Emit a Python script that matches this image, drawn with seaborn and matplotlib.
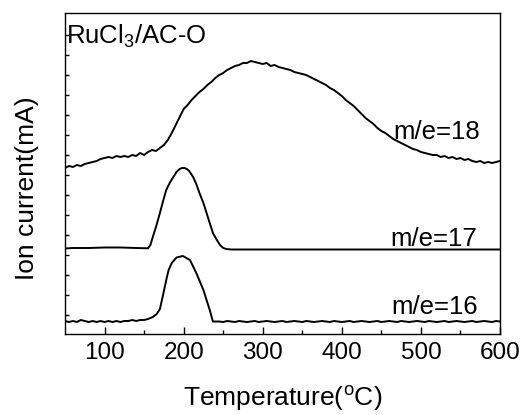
import numpy as np
import pandas as pd
import seaborn as sns
import matplotlib.pyplot as plt

sns.set_style("ticks")
plt.rcParams['font.family'] = ['Liberation Sans', 'DejaVu Sans']
plt.rcParams['mathtext.fontset'] = 'custom'
plt.rcParams['mathtext.rm'] = 'Liberation Sans'
plt.rcParams['mathtext.it'] = 'Liberation Sans:italic'
plt.rcParams['mathtext.default'] = 'rm'
plt.rcParams['text.color'] = 'black'
plt.rcParams['axes.labelcolor'] = 'black'
plt.rcParams['xtick.color'] = 'black'
plt.rcParams['ytick.color'] = 'black'
plt.rcParams['axes.edgecolor'] = 'black'

# ---------------- data (ion current, arbitrary offset units) ----------------
t18 = np.arange(50, 605, 5)
i18 = [165, 167, 166, 168, 167, 169, 170, 171, 172, 174,
       175, 176, 175, 177, 176, 177, 176, 178, 177, 180,
       178, 181, 183, 182, 185, 188, 193, 200, 208, 216,
       224, 228, 233, 237, 241, 244, 248, 251, 255, 258,
       260, 263, 265, 267, 268, 270, 270, 272, 271, 270,
       269, 270, 267, 268, 266, 265, 264, 263, 261, 260,
       259, 258, 256, 254, 252, 250, 248, 245, 243, 240,
       237, 233, 230, 227, 223, 219, 215, 212, 209, 205,
       202, 200, 197, 194, 192, 190, 188, 186, 184, 183,
       181, 180, 179, 178, 178, 176, 177, 175, 176, 174,
       175, 173, 174, 172, 171, 172, 170, 171, 170, 171,
       172]

t17 = [50, 60, 80, 100, 120, 140, 150, 155, 158, 161,
       165, 170, 174, 178, 183, 187, 191, 195, 198, 201,
       204, 207, 212, 216, 220, 225, 229, 233, 237, 242,
       246, 250, 254, 260, 300, 350, 400, 450, 500, 550,
       600]
i17 = [84.5, 85, 85, 85.5, 85.5, 85, 84.8, 84.7, 88, 96,
       106, 120, 132, 143, 151, 156, 161, 164, 165, 165,
       164, 162, 156, 149, 140, 130, 120, 110, 100, 93,
       88, 85, 84, 83.5, 83.5, 83.5, 83.5, 83.5, 83.5, 83.5,
       83.5]

t16_left = np.arange(50, 160, 5)
i16_left = [12, 11, 12, 11, 13, 12, 11, 12, 11, 12,
            11, 12, 11, 12, 11, 12, 12, 13, 12, 13,
            13, 14]
t16_peak = [161, 166, 170, 174, 178, 181, 185, 191, 199, 208, 216, 225, 233, 237]
i16_peak = [16, 19, 24, 38, 53, 63, 70, 75.5, 77, 73, 60, 43, 23, 11.5]
t16_right = np.arange(245, 605, 5)
i16_right = [11.5, 11, 12, 11.5, 11, 12, 11.5, 11, 11.5, 12,
             11, 11.5, 12, 11.5, 11, 11.5, 12, 11, 11.5, 12,
             11.5, 11, 12, 11.5, 11, 11.5, 12, 11.5, 11, 12,
             11.5, 11, 11.5, 12, 11, 11.5, 12, 11.5, 11, 11.5,
             12, 11, 11.5, 12, 11.5, 11, 12, 11.5, 11, 11.5,
             12, 11.5, 11, 12, 11.5, 11, 11.5, 12, 11, 11.5,
             12, 11.5, 11, 11.5, 12, 11, 11.5, 12, 11.5, 11,
             12, 11.5]
t16 = np.concatenate([t16_left, t16_peak, t16_right])
i16 = list(i16_left) + list(i16_peak) + list(i16_right)

series_labels = ["m/e=18", "m/e=17", "m/e=16"]
title_text = "RuCl$_3$/AC-O"
x_label = "Temperature($^{o}$C)"
y_label = "Ion current(mA)"
x_ticks = [100, 200, 300, 400, 500, 600]

df = pd.concat([
    pd.DataFrame({"T": t18, "I": i18, "s": series_labels[0]}),
    pd.DataFrame({"T": t17, "I": i17, "s": series_labels[1]}),
    pd.DataFrame({"T": t16, "I": i16, "s": series_labels[2]}),
], ignore_index=True)

# ---------------- figure ----------------
fig = plt.figure(figsize=(5.24, 4.15), dpi=100)
ax = fig.add_axes([65 / 524, (415 - 334) / 415, 435 / 524, 321 / 415])

for lab in series_labels:
    sns.lineplot(data=df[df["s"] == lab], x="T", y="I", ax=ax,
                 color="black", linewidth=1.4, sort=False, legend=False)

ax.set_xlim(50, 600)
ax.set_ylim(-1, 320)

ax.set_xticks(x_ticks)
ax.set_xticks([150, 250, 350, 450, 550], minor=True)
ax.set_yticks(np.arange(18, 300, 20))
ax.set_yticklabels([])
ax.tick_params(axis='x', which='major', direction='in', length=5, width=1,
               labelsize=17.5, pad=6, top=False, colors='black')
ax.tick_params(axis='x', which='minor', direction='in', length=3, width=1, top=False)
ax.tick_params(axis='y', which='major', direction='in', length=3, width=1,
               right=False, left=True)

for sp in ax.spines.values():
    sp.set_linewidth(1.0)
    sp.set_color('black')

ax.set_xlabel(x_label, fontsize=19, labelpad=14, color='black')
ax.set_ylabel(y_label, fontsize=19, color='black')
ax.yaxis.set_label_coords(-0.06, 0.455)

ax.text(51.5, 289.5, title_text, fontsize=18.5, ha='left', va='baseline', color='black')
ax.text(464.5, 194, series_labels[0], fontsize=18.5, ha='left', va='baseline', color='black')
ax.text(461.5, 87, series_labels[1], fontsize=18.5, ha='left', va='baseline', color='black')
ax.text(463, 19, series_labels[2], fontsize=18.5, ha='left', va='baseline', color='black')

fig.savefig("out.png", dpi=100)
